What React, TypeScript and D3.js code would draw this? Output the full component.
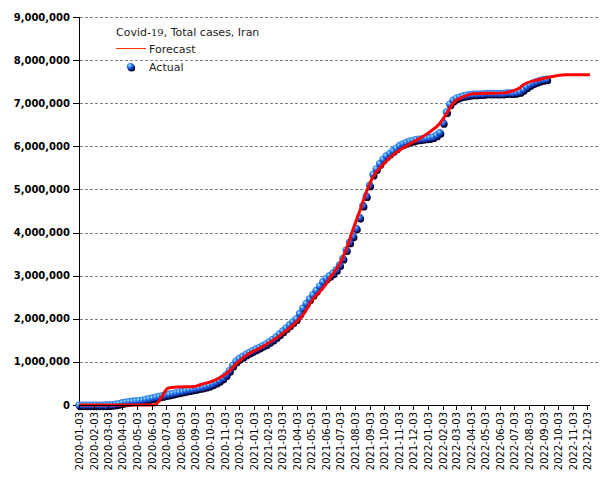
import React from 'react';
import * as d3 from 'd3';

const W = 605;
const H = 480;

// Actual weekly totals (millions), starting 2020-01-03, one value per week
const actualStart = '2020-01-03';
const actualWeeklyM = [
  0, 0, 0, 0, 0, 0, 0, 0, 0.001, 0.005,
  0.011, 0.021, 0.035, 0.053, 0.068, 0.08, 0.089, 0.095, 0.104, 0.116,
  0.131, 0.146, 0.164, 0.182, 0.2, 0.217, 0.235, 0.25, 0.267, 0.284,
  0.301, 0.318, 0.335, 0.35, 0.366, 0.382, 0.397, 0.413, 0.432, 0.457,
  0.49, 0.525, 0.57, 0.625, 0.7, 0.8, 0.92, 1.02, 1.08, 1.13,
  1.18, 1.22, 1.26, 1.3, 1.34, 1.38, 1.42, 1.47, 1.52, 1.58,
  1.65, 1.72, 1.79, 1.86, 1.93, 2.0, 2.12, 2.25, 2.36, 2.46,
  2.56, 2.66, 2.76, 2.86, 2.94, 3.0, 3.06, 3.14, 3.25, 3.4,
  3.6, 3.78, 3.92, 4.1, 4.35, 4.63, 4.85, 5.1, 5.35, 5.48,
  5.6, 5.7, 5.78, 5.84, 5.9, 5.96, 6.02, 6.06, 6.09, 6.12,
  6.14, 6.16, 6.17, 6.18, 6.19, 6.2, 6.22, 6.26, 6.32, 6.55,
  6.8, 6.98, 7.07, 7.12, 7.15, 7.17, 7.19, 7.2, 7.21, 7.21,
  7.22, 7.22, 7.23, 7.23, 7.23, 7.23, 7.23, 7.23, 7.24, 7.24,
  7.24, 7.25, 7.27, 7.32, 7.38, 7.43, 7.47, 7.5, 7.53, 7.55,
  7.56,
];

// Forecast curve (millions)
const forecastDates = [
  '2020-01-03', '2020-06-10', '2020-06-25', '2020-07-07', '2020-07-26', '2020-09-02',
  '2020-09-13', '2020-10-10', '2020-11-08', '2020-11-29', '2020-12-20', '2021-01-16',
  '2021-02-23', '2021-03-31', '2021-04-21', '2021-05-01', '2021-06-02', '2021-06-12',
  '2021-07-03', '2021-07-18', '2021-07-30', '2021-08-14', '2021-08-29', '2021-09-10',
  '2021-10-01', '2021-10-22', '2021-11-12', '2021-12-03', '2022-01-03', '2022-01-29',
  '2022-02-12', '2022-02-25', '2022-03-18', '2022-04-08', '2022-06-10', '2022-07-15',
  '2022-07-21', '2022-08-20', '2022-09-16', '2022-10-17', '2022-12-09',
];
const forecastM = [
  0, 0, 0.2, 0.39, 0.42, 0.43,
  0.47, 0.56, 0.74, 0.97, 1.16, 1.32,
  1.58, 1.9, 2.16, 2.36, 2.78, 2.95,
  3.29, 3.67, 4.06, 4.52, 4.99, 5.29,
  5.57, 5.8, 5.96, 6.1, 6.3, 6.54,
  6.77, 7.0, 7.15, 7.22, 7.24, 7.36,
  7.42, 7.54, 7.61, 7.66, 7.66,
];

const xTickLabels = [
  '2020-01-03', '2020-02-03', '2020-03-03', '2020-04-03', '2020-05-03', '2020-06-03',
  '2020-07-03', '2020-08-03', '2020-09-03', '2020-10-03', '2020-11-03', '2020-12-03',
  '2021-01-03', '2021-02-03', '2021-03-03', '2021-04-03', '2021-05-03', '2021-06-03',
  '2021-07-03', '2021-08-03', '2021-09-03', '2021-10-03', '2021-11-03', '2021-12-03',
  '2022-01-03', '2022-02-03', '2022-03-03', '2022-04-03', '2022-05-03', '2022-06-03',
  '2022-07-03', '2022-08-03', '2022-09-03', '2022-10-03', '2022-11-03', '2022-12-03',
];
const yTickValues = [0, 1000000, 2000000, 3000000, 4000000, 5000000, 6000000, 7000000, 8000000, 9000000];

const titleMain = 'Covid-';
const titleNum = '19';
const titleRest = ', Total cases, Iran';
const legendForecast = 'Forecast';
const legendActual = 'Actual';

export default function App() {
  const parse = d3.utcParse('%Y-%m-%d');
  const x = d3.scaleUtc()
    .domain([parse('2020-01-03')!, parse('2022-12-09')!])
    .range([79, 590]);
  const y = d3.scaleLinear().domain([0, 9000000]).range([405, 17]);
  const fmt = d3.format(',');

  const start = parse(actualStart)!;
  const actual = actualWeeklyM.map((v, i) => ({ d: d3.utcDay.offset(start, 7 * i), v: v * 1e6 }));
  const forecast = forecastDates.map((s, i) => ({ d: parse(s)!, v: forecastM[i] * 1e6 }));

  const line = d3.line<{ d: Date; v: number }>()
    .x((p) => x(p.d))
    .y((p) => y(p.v))
    .curve(d3.curveMonotoneX);

  const r = 3.6;
  const font = 'DejaVu Sans, sans-serif';

  return (
    <svg width={W} height={H} style={{ position: 'absolute', left: 0, top: 0, background: '#fff' }}>
      <defs>
        <radialGradient id="ball" cx="38%" cy="35%" r="70%">
          <stop offset="0%" stopColor="#c8f0ff" />
          <stop offset="25%" stopColor="#4aa8ff" />
          <stop offset="65%" stopColor="#1850d8" />
          <stop offset="100%" stopColor="#0a2280" />
        </radialGradient>
      </defs>
      <rect x={0} y={0} width={W} height={H} fill="#fff" />
      {/* grid */}
      {yTickValues.filter((t) => t > 0).map((t) => (
        <line key={t} x1={80} x2={600} y1={Math.round(y(t)) + 0.5} y2={Math.round(y(t)) + 0.5}
          stroke="#808080" strokeWidth={1} strokeDasharray="3,2" />
      ))}
      {/* y axis */}
      <line x1={79.5} x2={79.5} y1={17} y2={405} stroke="#000" strokeWidth={1} />
      {yTickValues.map((t) => (
        <g key={t}>
          <line x1={73} x2={79} y1={Math.round(y(t)) + 0.5} y2={Math.round(y(t)) + 0.5} stroke="#000" />
          <text x={70} y={y(t)} dy="0.36em" textAnchor="end" fontFamily={font} fontSize={10}
            fontWeight="bold" fill="#000">{fmt(t)}</text>
        </g>
      ))}
      {/* actual dots */}
      <g>
        {actual.map((p, i) => (
          <circle key={'s' + i} cx={x(p.d) + 1} cy={y(p.v) + 1.6} r={r} fill="#050530" />
        ))}
        {actual.map((p, i) => (
          <circle key={'b' + i} cx={x(p.d)} cy={y(p.v)} r={r} fill="url(#ball)" />
        ))}
      </g>
      {/* forecast */}
      <path d={line(forecast) || ''} fill="none" stroke="#ff0000" strokeWidth={3} />
      {/* x axis */}
      <line x1={79} x2={590} y1={405.5} y2={405.5} stroke="#000" strokeWidth={1} />
      {xTickLabels.map((s) => {
        const xx = Math.round(x(parse(s)!)) + 0.5;
        return (
          <g key={s}>
            <line x1={xx} x2={xx} y1={405} y2={410} stroke="#000" />
            <text transform={`translate(${xx},${412}) rotate(-90)`} dy="0.35em" textAnchor="end"
              fontFamily={font} fontSize={10} fill="#000">{s}</text>
          </g>
        );
      })}
      {/* legend */}
      <text x={116} y={36} fontFamily={font} fontSize={11} fill="#222">
        {titleMain}
        <tspan fontFamily="DejaVu Serif, serif" fontSize={10}>{titleNum}</tspan>
        {titleRest}
      </text>
      <line x1={116} x2={146} y1={48.5} y2={48.5} stroke="#ff3300" strokeWidth={1} />
      <text x={149} y={53} fontFamily={font} fontSize={11} fill="#222">{legendForecast}</text>
      <circle cx={131.5} cy={68} r={r} fill="#050530" />
      <circle cx={130.5} cy={66.5} r={r} fill="url(#ball)" />
      <text x={149} y={71} fontFamily={font} fontSize={11} fill="#222">{legendActual}</text>
    </svg>
  );
}
